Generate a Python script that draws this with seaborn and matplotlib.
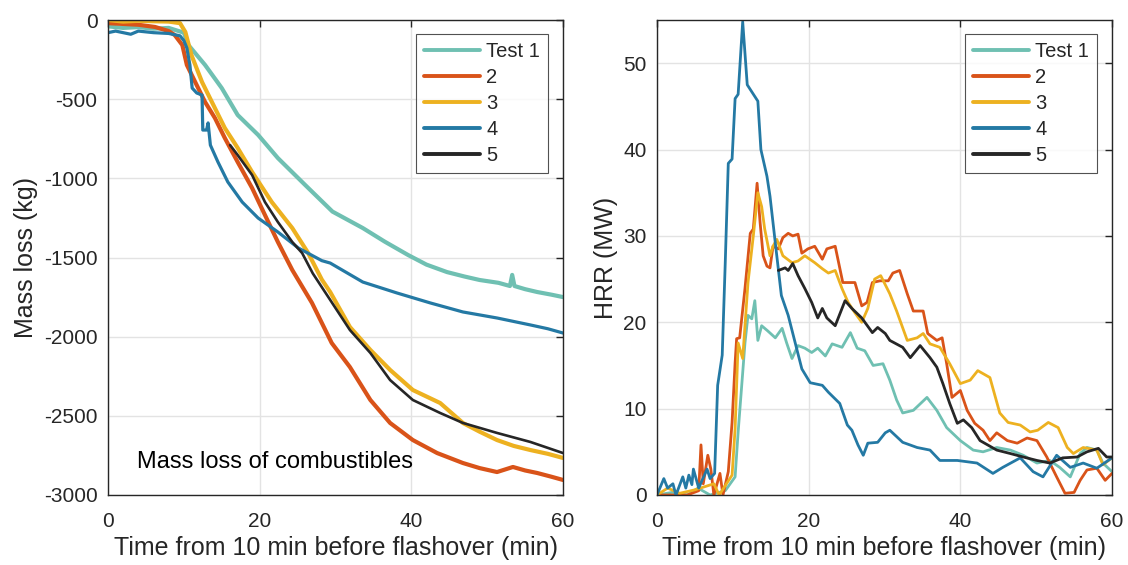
import numpy as np
import pandas as pd
import matplotlib
matplotlib.use("Agg")
import matplotlib.pyplot as plt
import seaborn as sns

# ---------------- data ----------------
labels = ["Test 1", "2", "3", "4", "5"]
colors = ["#6FC0B2", "#D95319", "#EDB120", "#2479A4", "#262626"]

# Mass loss (kg) vs time (min)
m1_t = [0, 2, 4, 6, 8, 10, 10.6, 12.8, 15, 17.1, 19.8, 22.4, 26, 29.6, 33.6, 36.5, 39.6, 42, 44.7, 47, 49, 51.5, 53.0, 53.3, 53.6, 55, 56.6, 58.5, 60]
m1_y = [-40, -50, -45, -55, -50, -80, -158, -284, -430, -600, -726, -872, -1042, -1210, -1314, -1400, -1485, -1545, -1592, -1620, -1642, -1660, -1680, -1610, -1680, -1700, -1718, -1735, -1750]

m2_t = [0, 2, 4, 6.2, 8, 8.8, 9.8, 10.4, 11.5, 12.8, 14.1, 15.4, 17.1, 19, 20.7, 22.4, 24.3, 26.9, 29.5, 31.9, 34.6, 37.2, 40.2, 43.4, 46.8, 49, 51.3, 53.4, 55, 56.6, 58.5, 60]
m2_y = [-20, -25, -30, -44, -70, -95, -158, -284, -392, -518, -619, -745, -897, -1061, -1232, -1402, -1579, -1787, -2040, -2192, -2400, -2545, -2653, -2735, -2798, -2830, -2855, -2823, -2845, -2861, -2885, -2905]

m3_t = [0, 2, 4, 6, 8, 9.5, 10.2, 11, 12.4, 13.7, 15.4, 17.1, 19, 21.6, 24.3, 26.4, 28.2, 29.3, 31.9, 34.6, 37.2, 40.2, 43.8, 46.8, 49, 51.3, 53.5, 55.7, 58, 60]
m3_y = [0, -10, -5, -8, -10, -20, -76, -221, -392, -518, -682, -808, -960, -1150, -1314, -1472, -1640, -1718, -1939, -2084, -2210, -2337, -2419, -2545, -2600, -2653, -2690, -2716, -2740, -2766]

m4_t = [0, 1, 2, 3, 4, 6, 8, 9.5, 10.0, 10.4, 10.8, 11.1, 11.7, 12.4, 12.5, 13.0, 13.2, 13.5, 14.5, 15.8, 17.7, 19.8, 22.4, 25.1, 28.2, 29.3, 33.6, 38.1, 42.5, 46.8, 51.3, 55.7, 58, 60]
m4_y = [-80, -70, -80, -90, -70, -80, -85, -100, -130, -177, -284, -430, -461, -474, -695, -695, -650, -790, -897, -1023, -1150, -1251, -1339, -1440, -1520, -1535, -1655, -1724, -1787, -1844, -1882, -1926, -1950, -1977]

m5_t = [16.1, 17.1, 19, 20.7, 22.4, 24.3, 25.6, 27, 29.3, 31.9, 34.6, 37.2, 40.2, 43.8, 46.8, 51.3, 55.7, 60]
m5_y = [-790, -853, -979, -1150, -1276, -1402, -1472, -1600, -1768, -1958, -2103, -2274, -2400, -2482, -2545, -2608, -2665, -2735]

# HRR (MW) vs time (min)
h1_t = [0, 2, 4, 5.4, 7, 9, 10.3, 10.7, 11.2, 11.6, 12, 12.5, 12.9, 13.3, 13.8, 14.6, 15.6, 16.5, 17.1, 17.8, 18.6, 19.5, 20.4, 21.2, 22.2, 23.1, 24.4, 25.5, 26.4, 27.4, 28.5, 29.8, 30.7, 31.6, 32.4, 33.8, 35.6, 36.9, 38.2, 40, 41.7, 43, 44.8, 46.6, 48.3, 50.1, 51.8, 53.1, 54.5, 55.8, 56.7, 58, 58.8, 60]
h1_y = [0, 0.3, 0, 0.8, 0, 0.5, 2.1, 7.3, 13.0, 17.6, 20.8, 20.4, 22.5, 17.9, 19.6, 19.0, 18.2, 19.3, 17.6, 15.8, 17.3, 17.0, 16.5, 17.0, 16.1, 17.5, 17.1, 18.8, 17.0, 16.7, 15.0, 15.2, 13.3, 11.0, 9.5, 9.8, 11.3, 9.8, 7.8, 6.3, 5.2, 5.0, 5.5, 5.2, 4.6, 3.7, 4.0, 3.2, 2.1, 4.8, 5.5, 5.2, 3.7, 2.7]

h2_t = [0, 2, 4, 5.5, 5.8, 6.1, 6.7, 7.1, 7.5, 8.3, 8.7, 9.4, 9.9, 10.3, 10.5, 10.9, 11.6, 12.3, 12.7, 13.2, 13.6, 14, 14.5, 14.9, 15.3, 16, 16.6, 17.3, 17.9, 18.6, 19.1, 19.9, 20.8, 21.8, 22.4, 23.5, 24.5, 25.2, 26.1, 27, 27.7, 28.4, 29.4, 30.5, 31.1, 32, 33, 33.8, 35.1, 35.7, 36.9, 37.6, 38.2, 38.9, 40, 40.9, 41.9, 43, 43.9, 44.8, 46.2, 47.5, 48.8, 50.1, 51.4, 52.7, 53.8, 55, 55.8, 56.7, 58, 59.1, 60]
h2_y = [0, 0, 0, 0.5, 5.8, 1.3, 4.6, 3.0, 0, 2.5, 0, 2.7, 8.4, 15.3, 18.1, 18.2, 23.9, 30.3, 30.8, 36.1, 31.5, 27.7, 26.5, 26.3, 28.8, 28.5, 29.8, 30.3, 30.0, 30.2, 28.0, 28.5, 28.8, 27.3, 28.5, 28.8, 24.6, 24.6, 24.6, 21.9, 22.3, 24.6, 24.8, 24.8, 25.7, 26.0, 23.3, 21.3, 21.3, 18.7, 17.9, 18.2, 15.2, 11.3, 12.1, 9.8, 8.3, 7.5, 6.3, 7.2, 6.3, 6.0, 6.6, 6.3, 4.4, 2.1, 0.2, 0.3, 1.7, 2.9, 3.1, 1.7, 2.5]

h3_t = [0, 1.4, 3, 5, 7.5, 8.2, 9.9, 10.3, 10.7, 11.3, 12, 12.7, 13.3, 13.8, 14.2, 14.9, 15.3, 15.8, 16.6, 17.8, 18.6, 19.5, 20.8, 21.8, 22.6, 23.5, 24.4, 25.2, 26.1, 27, 27.8, 28.7, 29.5, 30.7, 31.6, 33, 34.3, 35.1, 36, 37.3, 38.6, 40, 41.3, 42.3, 43.9, 45.2, 46.3, 47.9, 49.2, 50.2, 51.6, 52.9, 54.1, 54.9, 56.2, 58, 58.8, 60]
h3_y = [0, 0.8, 0.2, 0.6, 1.3, 0, 2.3, 7.7, 17.6, 15.8, 24.6, 30.0, 35.0, 33.4, 30.8, 27.7, 28.8, 29.6, 27.7, 26.9, 27.1, 27.7, 26.9, 26.2, 25.7, 26.0, 23.9, 22.3, 21.1, 20.0, 21.6, 25.0, 25.4, 23.3, 21.3, 17.9, 18.2, 18.7, 17.5, 17.1, 15.2, 12.9, 13.3, 14.4, 13.6, 9.5, 8.4, 8.1, 7.3, 7.5, 8.4, 7.8, 5.5, 4.8, 5.5, 5.2, 3.5, 4.3]

h4_t = [0, 0.9, 1.4, 2.1, 2.5, 3.4, 3.8, 4.2, 4.6, 4.8, 5.5, 6.6, 7.0, 7.6, 8.0, 8.6, 9.0, 9.4, 9.9, 10.3, 10.7, 11.3, 11.9, 13.3, 13.7, 14.5, 14.9, 15.6, 16.4, 17.3, 19.1, 20.2, 21.8, 22.6, 24.1, 25.1, 25.7, 26.5, 27.2, 27.8, 29.1, 30.1, 30.7, 32.4, 34.3, 36, 37.3, 39.6, 42.2, 44.3, 45.6, 47.9, 49.6, 50.9, 52.7, 54.5, 56.2, 58, 60]
h4_y = [0, 1.9, 0.8, 1.3, 0, 2.1, 0.8, 2.3, 1.2, 3.0, 0.8, 3.0, 1.9, 2.5, 12.7, 16.2, 26.9, 38.4, 38.9, 45.9, 46.4, 54.8, 47.5, 45.6, 40.0, 36.9, 34.6, 29.2, 23.1, 20.8, 14.6, 13.0, 12.7, 11.9, 10.6, 8.1, 7.5, 5.8, 4.6, 6.0, 6.1, 7.2, 7.5, 6.1, 5.5, 5.2, 4.0, 4.0, 3.7, 2.5, 3.2, 4.3, 2.7, 2.1, 4.6, 3.2, 3.7, 3.1, 4.3]

h5_t = [16, 16.9, 17.3, 17.9, 18.6, 19.5, 20.4, 21.2, 21.8, 22.4, 23.5, 24.8, 25.7, 27, 28.4, 29.1, 30.1, 30.7, 32.4, 33.4, 34.7, 36, 36.9, 37.7, 38.6, 39.6, 40.4, 41.5, 42.6, 44.8, 46.6, 48.3, 50.1, 51.8, 53.5, 55.4, 56.7, 58.2, 59.3, 60]
h5_y = [26.0, 26.3, 26.0, 26.8, 25.4, 23.9, 22.3, 20.5, 21.6, 20.5, 19.6, 22.5, 21.6, 20.5, 18.8, 19.4, 18.7, 17.9, 17.1, 15.9, 17.3, 15.9, 14.8, 12.9, 10.6, 8.3, 8.7, 7.8, 6.3, 5.2, 4.8, 4.4, 4.0, 3.7, 4.3, 4.4, 5.0, 5.4, 4.4, 4.4]

x_ticks = [0, 20, 40, 60]
mass_ticks = [0, -500, -1000, -1500, -2000, -2500, -3000]
hrr_ticks = [0, 10, 20, 30, 40, 50]

mass_series = [(m1_t, m1_y), (m2_t, m2_y), (m3_t, m3_y), (m4_t, m4_y), (m5_t, m5_y)]
hrr_series = [(h1_t, h1_y), (h2_t, h2_y), (h3_t, h3_y), (h4_t, h4_y), (h5_t, h5_y)]

# ---------------- style ----------------
sns.set_theme(style="white")
plt.rcParams["font.family"] = ["Liberation Sans", "DejaVu Sans"]
plt.rcParams["axes.unicode_minus"] = False
plt.rcParams["axes.edgecolor"] = "#262626"
plt.rcParams["axes.linewidth"] = 1.0

fig = plt.figure(figsize=(11.28, 5.65), dpi=100)
ax1 = fig.add_axes([108/1128, 1-495/565, 455/1128, 475/565])
ax2 = fig.add_axes([657/1128, 1-495/565, 455/1128, 475/565])

lw_mass = [3.0, 3.0, 3.0, 2.3, 1.9]
for (t, y), lab, c, lw in zip(mass_series, labels, colors, lw_mass):
    df = pd.DataFrame({"t": t, "y": y})
    sns.lineplot(data=df, x="t", y="y", ax=ax1, color=c, lw=lw, label=lab,
                 estimator=None, sort=False)

for (t, y), lab, c in zip(hrr_series, labels, colors):
    df = pd.DataFrame({"t": t, "y": y})
    sns.lineplot(data=df, x="t", y="y", ax=ax2, color=c, lw=2.0, label=lab,
                 estimator=None, sort=False)

for ax, yt, ylim, ylab in [(ax1, mass_ticks, (-3000, 0), "Mass loss (kg)"),
                           (ax2, hrr_ticks, (0, 55), "HRR (MW)")]:
    ax.set_xlim(0, 60)
    ax.set_ylim(*ylim)
    ax.set_xticks(x_ticks)
    ax.set_yticks(yt)
    ax.grid(True, color="#e3e3e3", lw=1.0)
    ax.set_axisbelow(True)
    for s in ax.spines.values():
        s.set_visible(True)
        s.set_color("#262626")
    ax.tick_params(direction="in", top=True, right=True, length=5, width=1,
                   labelsize=15, colors="#262626")
    ax.tick_params(axis="x", pad=12)
    ax.tick_params(axis="y", pad=7.5)
    ax.set_xlabel("Time from 10 min before flashover (min)", fontsize=18, color="#262626", labelpad=4)
    ax.set_ylabel(ylab, fontsize=18, color="#262626", labelpad=4)
    leg = ax.legend(loc="upper right", fontsize=14.5, frameon=True, fancybox=False,
                    edgecolor="#262626", handlelength=2.8, handletextpad=0.3,
                    labelspacing=0.35, borderpad=0.4, borderaxespad=0,
                    bbox_to_anchor=(1 - 15/455, 1 - 14/475))
    leg.get_frame().set_linewidth(0.8)
    for line in leg.get_lines():
        line.set_linewidth(2.8)

ax1.text(3.8, -2830, "Mass loss of combustibles", fontsize=17, color="black", va="baseline")

fig.savefig("out.png", dpi=100)
